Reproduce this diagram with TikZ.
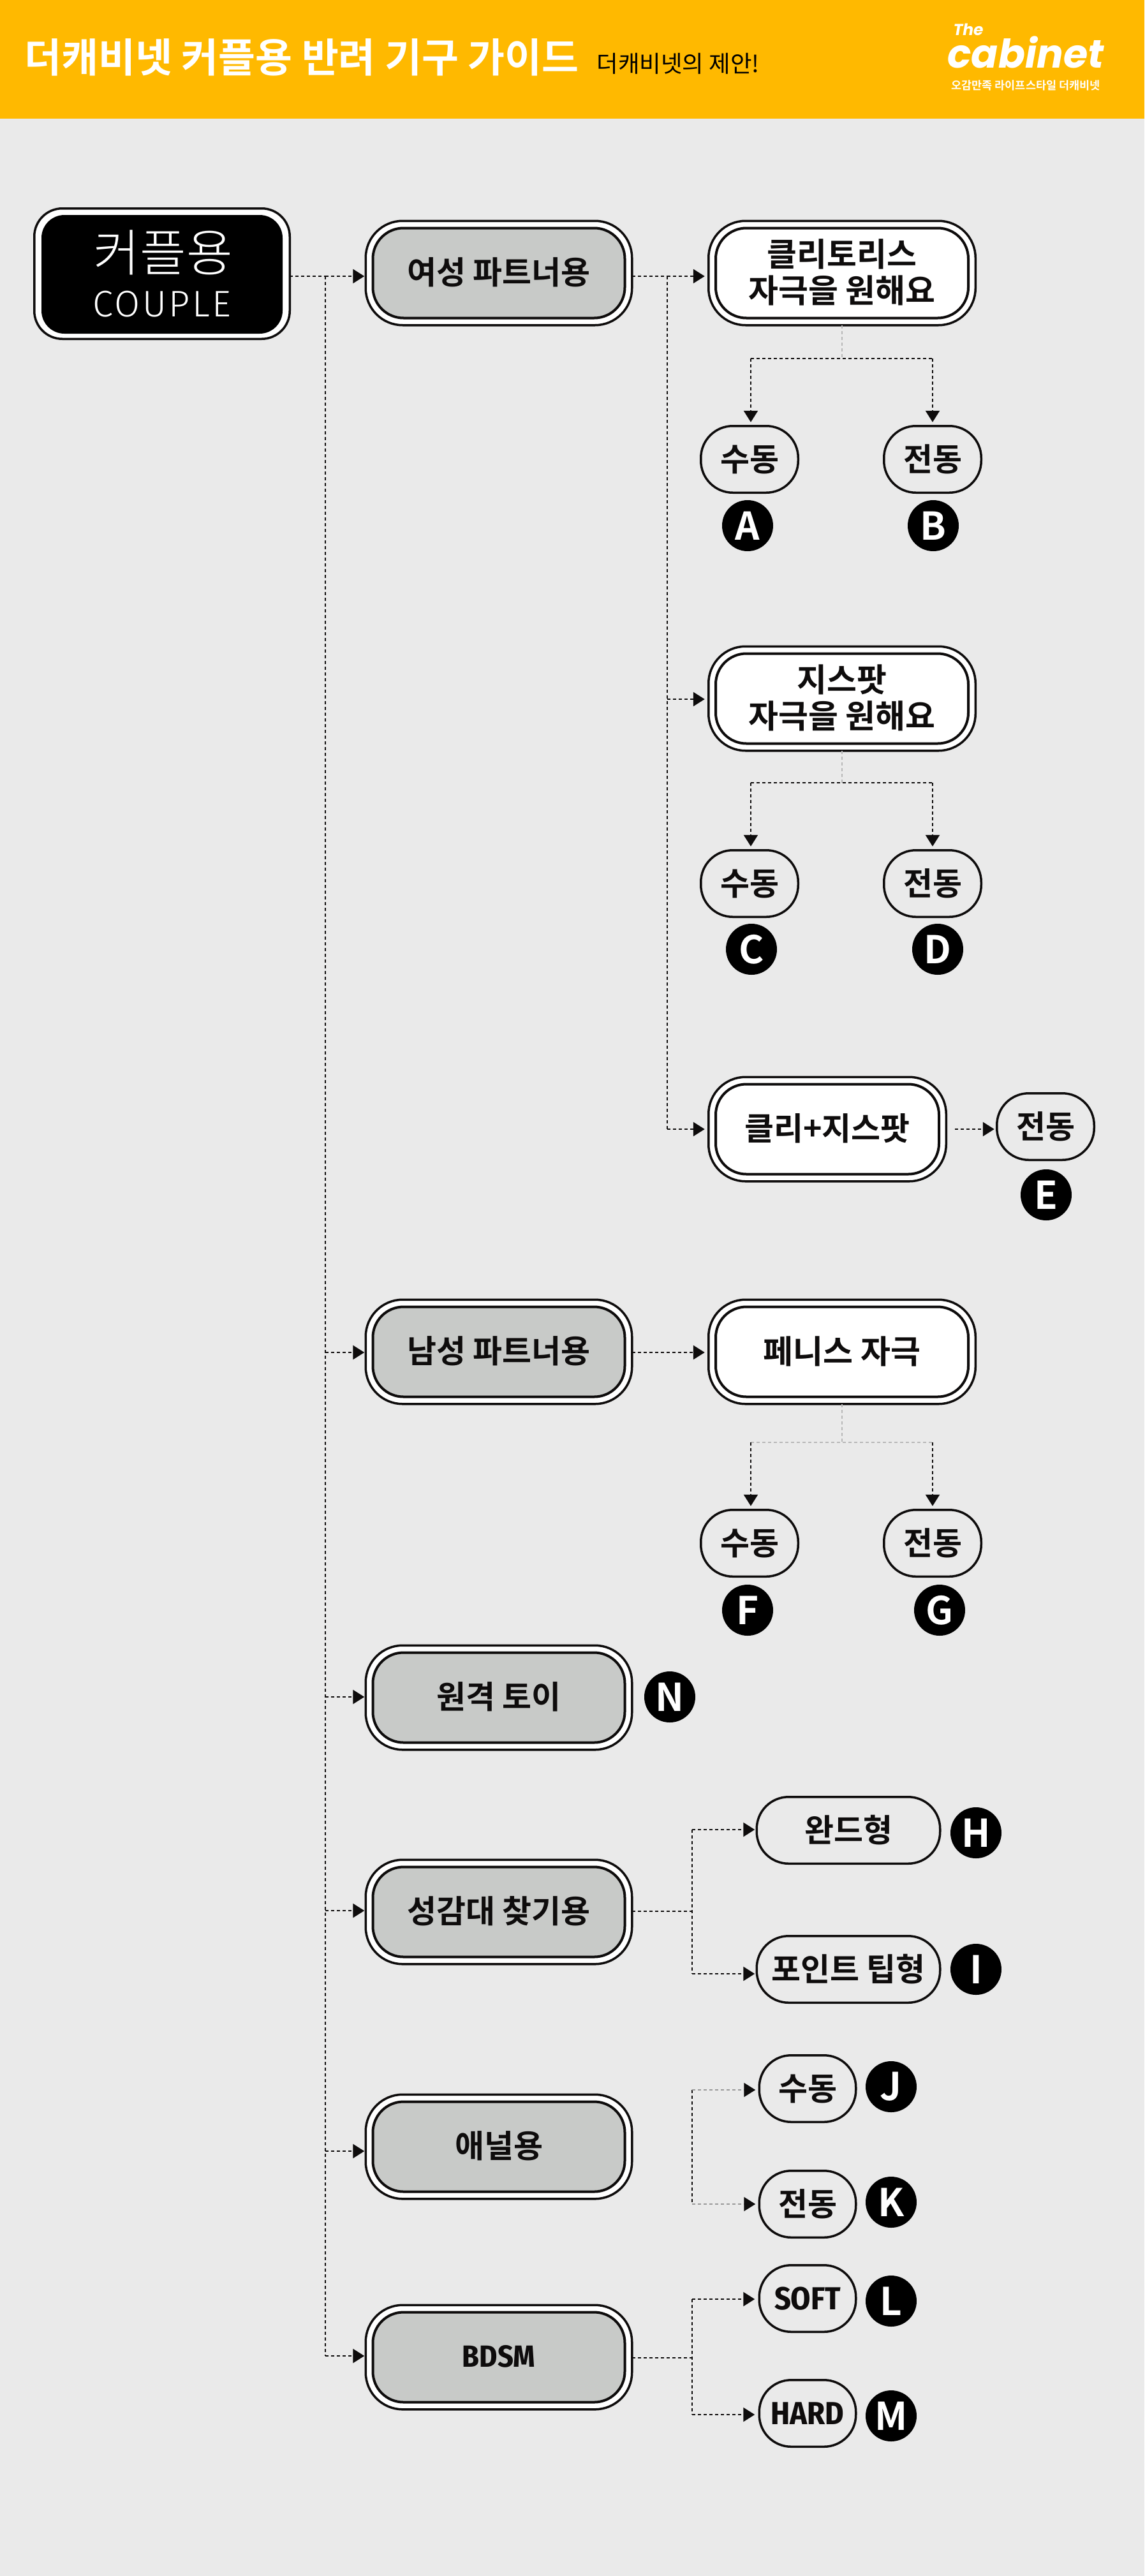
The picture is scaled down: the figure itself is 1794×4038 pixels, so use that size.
\documentclass[tikz,border=0pt]{standalone}
\usepackage{fontspec}
\setmainfont{Noto Sans CJK KR}[BoldFont={Noto Sans CJK KR Bold}]
\newfontfamily\krb{Noto Sans CJK KR Bold}
\newfontfamily\krl{Noto Sans CJK KR Light}
\newfontfamily\latin{Fira Sans Light}[LetterSpace=6]
\newfontfamily\cond{Fira Sans Condensed Bold}
\newfontfamily\logo{Poppins Bold Italic}
\usetikzlibrary{arrows.meta}
\definecolor{bgc}{HTML}{EAEAEA}
\definecolor{hdr}{HTML}{FFB900}
\definecolor{gr}{HTML}{C8CAC8}
\definecolor{ink}{HTML}{0E0C0C}
\tikzset{
 x=1pt,y=-1pt,
 outerring/.style={rounded corners=#1,line width=3.5pt,draw=ink,fill=white,inner sep=0pt,outer sep=0pt},
 lbl/.style={inner sep=0pt,font=\krb\fontsize{50}{57}\selectfont,align=center,text=ink},
 dots/.style={line width=2.6pt,draw=ink,dash pattern=on 5pt off 4pt},
 faint/.style={line width=2pt,draw=black!28,dash pattern=on 5pt off 4pt},
 tipa/.style={-{Triangle[length=18pt,width=22pt,color=ink,fill=ink]},shorten >=#1},
 tipa/.default=6pt,
 circ/.style={circle,fill=black,text=white,minimum size=80pt,inner sep=0pt,font=\krb\fontsize{60}{60}\selectfont},
 small/.style={rounded corners=50pt,line width=3.5pt,draw=ink,inner sep=0pt,outer sep=0pt,font=\krb\fontsize{50}{50}\selectfont,text=ink,align=center},
}
% \ringnode{name}{x}{y}{w}{h}{fill}{font}{text}
\newcommand{\ringnode}[8]{%
 \node[outerring=58pt,minimum width=#4 pt-3.5pt,minimum height=#5 pt-3.5pt] (#1) at (#2,#3) {};
 \node[rounded corners=48pt,draw=ink,line width=4pt,fill=#6,minimum width=#4 pt-26pt,minimum height=#5 pt-26pt,inner sep=0pt] (#1in) at (#2,#3) {};
 \node[lbl,#7] (#1txt) at (#2,#3-1) {#8};
}
\newcommand{\smallbox}[5]{\node[small,minimum width=#4 pt-3.5pt,minimum height=104.5pt] (#1) at (#2,#3) {#5};}
\begin{document}
\begin{tikzpicture}
\useasboundingbox (0,0) rectangle (1794,4038);
\fill[bgc] (0,0) rectangle (1794,4038);
\fill[hdr] (0,0) rectangle (1794,186);
\node[inner sep=0pt,text=white,font=\krb\fontsize{63}{63}\selectfont] (title) at (473,90) {더캐비넷 커플용 반려 기구 가이드};
\node[inner sep=0pt,text=black,font=\rmfamily\fontsize{36.5}{40}\selectfont] (sub) at (1063,100) {더캐비넷의 제안!};
\node[inner sep=0pt,text=white,font=\logo\fontsize{62}{62}\selectfont] (logo) at (1608,82) {cabinet};
\node[inner sep=0pt,text=white,font=\logo\fontsize{25}{25}\selectfont] (the) at (1518,46) {The};
\node[inner sep=0pt,text=white,font=\krb\fontsize{17.5}{18}\selectfont] (tag) at (1608,134) {오감만족 라이프스타일 더캐비넷};
% top box
\node[outerring=44pt,minimum width=400.5pt,minimum height=204.5pt] (couple) at (254,429) {};
\node[rounded corners=36pt,fill=black,minimum width=378pt,minimum height=186pt,inner sep=0pt] (couplein) at (254,430) {};
\node[text=white,inner sep=0pt,font=\krl\fontsize{79}{80}\selectfont] (t1) at (256,396) {커플용};
\node[text=white,inner sep=0pt,font=\latin\fontsize{58}{60}\selectfont] (t2) at (254,477) {COUPLE};
% level 1
\ringnode{fem}{782}{428}{421}{167}{gr}{}{여성 파트너용}
\ringnode{male}{782}{2119}{421}{167}{gr}{}{남성 파트너용}
\ringnode{remote}{782}{2661}{421}{167}{gr}{}{원격 토이}
\ringnode{sens}{782}{2997}{421}{167}{gr}{}{성감대 찾기용}
\ringnode{anal}{782}{3365}{421}{167}{gr}{}{애널용}
\ringnode{bdsm}{782}{3695}{421}{167}{gr}{font=\cond\fontsize{48}{50}\selectfont}{BDSM}
% level 2
\ringnode{cli}{1320}{428}{422}{167}{white}{font=\krb\fontsize{51}{57}\selectfont}{클리토리스\\자극을 원해요}
\ringnode{gsp}{1320}{1095}{422}{167}{white}{font=\krb\fontsize{51}{57}\selectfont}{지스팟\\자극을 원해요}
\ringnode{both}{1297}{1770}{376}{167}{white}{}{클리+지스팟}
\ringnode{pen}{1320}{2119}{422}{167}{white}{font=\krb\fontsize{51}{57}\selectfont}{페니스 자극}
% leaves
\smallbox{a}{1175}{720}{156}{수동}
\smallbox{b}{1462}{720}{156}{전동}
\smallbox{c}{1175}{1385}{156}{수동}
\smallbox{d}{1462}{1385}{156}{전동}
\smallbox{e}{1639}{1766}{156}{전동}
\smallbox{f}{1175}{2419}{156}{수동}
\smallbox{g}{1462}{2419}{156}{전동}
\smallbox{h}{1330}{2869}{291}{완드형}
\smallbox{i}{1330}{3087}{291}{포인트 팁형}
\smallbox{j}{1266}{3274}{155}{수동}
\smallbox{k}{1266}{3455}{155}{전동}
\node[small,minimum width=151.5pt,minimum height=104.5pt,font=\cond\fontsize{50}{50}\selectfont] (l) at (1266,3603) {SOFT};
\node[small,minimum width=151.5pt,minimum height=104.5pt,font=\cond\fontsize{50}{50}\selectfont] (m) at (1266,3783) {HARD};
% circles
\node[circ] (ca) at (1172,824) {A};
\node[circ] (cb) at (1463,824) {B};
\node[circ] (cc) at (1178,1488) {C};
\node[circ] (cd) at (1470,1488) {D};
\node[circ] (ce) at (1640,1873) {E};
\node[circ] (cf) at (1172,2524) {F};
\node[circ] (cg) at (1473,2524) {G};
\node[circ] (cn) at (1050,2660) {N};
\node[circ] (ch) at (1530,2873) {H};
\node[circ] (ci) at (1530,3087) {I};
\node[circ] (cj) at (1397,3271) {J};
\node[circ] (ck) at (1397,3452) {K};
\node[circ] (cl) at (1397,3607) {L};
\node[circ] (cm) at (1397,3787) {M};
% trunk
\coordinate (t0) at (510,433);
\coordinate (tm) at (510,2120);
\coordinate (tr) at (510,2660);
\coordinate (ts) at (510,2995);
\coordinate (ta) at (510,3372);
\coordinate (tb) at (510,3693);
\draw[dots] (couple.east |- t0) -- (t0);
\draw[dots] (t0) -- (tb);
\draw[dots,tipa=2pt] (t0) -- (fem.west |- t0);
\draw[dots,tipa=2pt] (tm) -- (male.west |- tm);
\draw[dots,tipa=2pt] (tr) -- (remote.west |- tr);
\draw[dots,tipa=2pt] (ts) -- (sens.west |- ts);
\draw[dots,tipa=2pt] (ta) -- (anal.west |- ta);
\draw[dots,tipa=2pt] (tb) -- (bdsm.west |- tb);
% female branch
\coordinate (f0) at (1046,433);
\coordinate (f1) at (1046,1096);
\coordinate (f2) at (1046,1770);
\draw[dots] (fem.east |- f0) -- (f0);
\draw[dots] (f0) -- (f2);
\draw[dots,tipa] (f0) -- (cli.west |- f0);
\draw[dots,tipa] (f1) -- (gsp.west |- f1);
\draw[dots,tipa] (f2) -- (both.west |- f2);
\draw[dots,tipa=4pt,shorten <=14pt] (both.east |- f2) -- (e.west |- f2);
% clitoris leaves
\coordinate (ja) at (1177,562);
\coordinate (jb) at (1462,562);
\draw[faint] (cli.south) -- (cli.south |- ja);
\draw[dots] (ja) -- (jb);
\draw[dots,tipa] (ja) -- (ja |- a.north);
\draw[dots,tipa] (jb) -- (jb |- b.north);
% g-spot leaves
\coordinate (jc) at (1177,1227);
\coordinate (jd) at (1462,1227);
\draw[faint] (gsp.south) -- (gsp.south |- jc);
\draw[dots] (jc) -- (jd);
\draw[dots,tipa] (jc) -- (jc |- c.north);
\draw[dots,tipa] (jd) -- (jd |- d.north);
% male branch
\coordinate (jf) at (1177,2261);
\coordinate (jg) at (1462,2261);
\draw[dots,tipa] (male.east |- tm) -- (pen.west |- tm);
\draw[faint] (pen.south) -- (pen.south |- jf);
\draw[faint] (jf) -- (jg);
\draw[dots,tipa] (jf) -- (jf |- f.north);
\draw[dots,tipa] (jg) -- (jg |- g.north);
% sensual branch
\coordinate (s0) at (1085,2996);
\coordinate (s1) at (1085,2868);
\coordinate (s2) at (1085,3094);
\draw[dots] (sens.east |- s0) -- (s0);
\draw[dots] (s1) -- (s2);
\draw[dots,tipa=3pt] (s1) -- (h.west |- s1);
\draw[dots,tipa=3pt] (s2) -- (i.west |- s2);
% anal branch (no link from the box)
\coordinate (a1) at (1085,3276);
\coordinate (a2) at (1085,3455);
\draw[line width=2pt,draw=ink,dash pattern=on 5pt off 4pt] (a1) -- (a2);
\draw[faint,tipa=6pt,draw=black!40] (a1) -- (j.west |- a1);
\draw[faint,tipa=6pt,draw=black!40] (a2) -- (k.west |- a2);
% bdsm branch
\coordinate (b0) at (1085,3696);
\coordinate (b1) at (1085,3604);
\coordinate (b2) at (1085,3785);
\draw[dots] (bdsm.east |- b0) -- (b0);
\draw[dots] (b1) -- (b2);
\draw[dots,tipa=7pt] (b1) -- (l.west |- b1);
\draw[dots,tipa=7pt] (b2) -- (m.west |- b2);
\end{tikzpicture}
\end{document}
